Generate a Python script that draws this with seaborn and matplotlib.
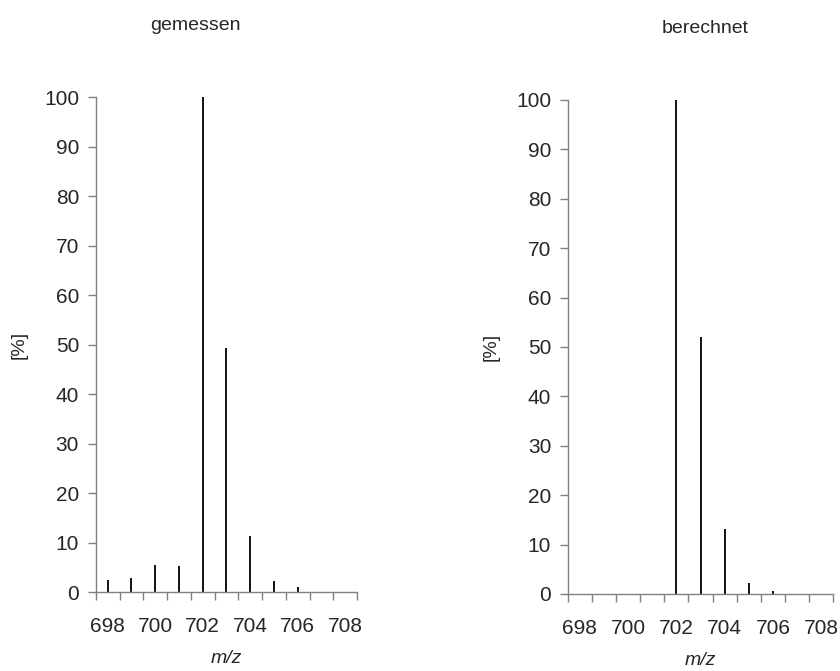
import numpy as np
import pandas as pd
import seaborn as sns
import matplotlib.pyplot as plt
from matplotlib.ticker import FixedLocator

# Isotopenmuster: gemessen vs. berechnet
mz_meas = [698, 699, 700, 701, 702, 703, 704, 705, 706]
int_meas = [2.5, 2.8, 5.5, 5.2, 100, 49.3, 11.3, 2.3, 1.0]

mz_calc = [702, 703, 704, 705, 706]
int_calc = [100, 52.0, 13.1, 2.2, 0.6]

xticks = [698, 700, 702, 704, 706, 708]
yticks = list(range(0, 101, 10))

meas = pd.DataFrame({"mz": mz_meas, "intens": int_meas})
calc = pd.DataFrame({"mz": mz_calc, "intens": int_calc})

sns.set_theme(style="ticks")
plt.rcParams["font.family"] = ["Liberation Sans", "DejaVu Sans"]

fig = plt.figure(figsize=(8.4, 6.71), dpi=100)
ax1 = fig.add_axes([0.114, 0.1177, 0.311, 0.7377])
ax2 = fig.add_axes([0.676, 0.1148, 0.316, 0.7362])

# titles sit a bit off-centre in the original
panels = [(ax1, meas, "gemessen", 0.383), (ax2, calc, "berechnet", 0.517)]

for ax, df, title, tx in panels:
    ax.vlines(df.mz, 0, df.intens, color="black", lw=1.3)
    ax.set_xlim(697.5, 708.5)
    ax.set_ylim(0, 100)
    ax.set_xticks(xticks)
    ax.xaxis.set_minor_locator(FixedLocator(np.arange(697.5, 709, 1)))
    ax.set_yticks(yticks)
    ax.tick_params(axis="x", which="major", length=0, labelsize=15, pad=18)
    ax.tick_params(axis="x", which="minor", length=6, width=1, color="#808080")
    ax.tick_params(axis="y", length=6, width=1, color="#808080", labelsize=15, pad=6)
    sns.despine(ax=ax)
    for s in ["left", "bottom"]:
        ax.spines[s].set_color("#808080")
        ax.spines[s].set_linewidth(1)
    ax.set_ylabel("[%]", fontsize=14, labelpad=12)
    ax.set_xlabel("m/z", fontsize=14, fontstyle="italic", labelpad=10)
    ax.set_title(title, fontsize=14, pad=48, x=tx)

fig.savefig("out.png", dpi=100)
